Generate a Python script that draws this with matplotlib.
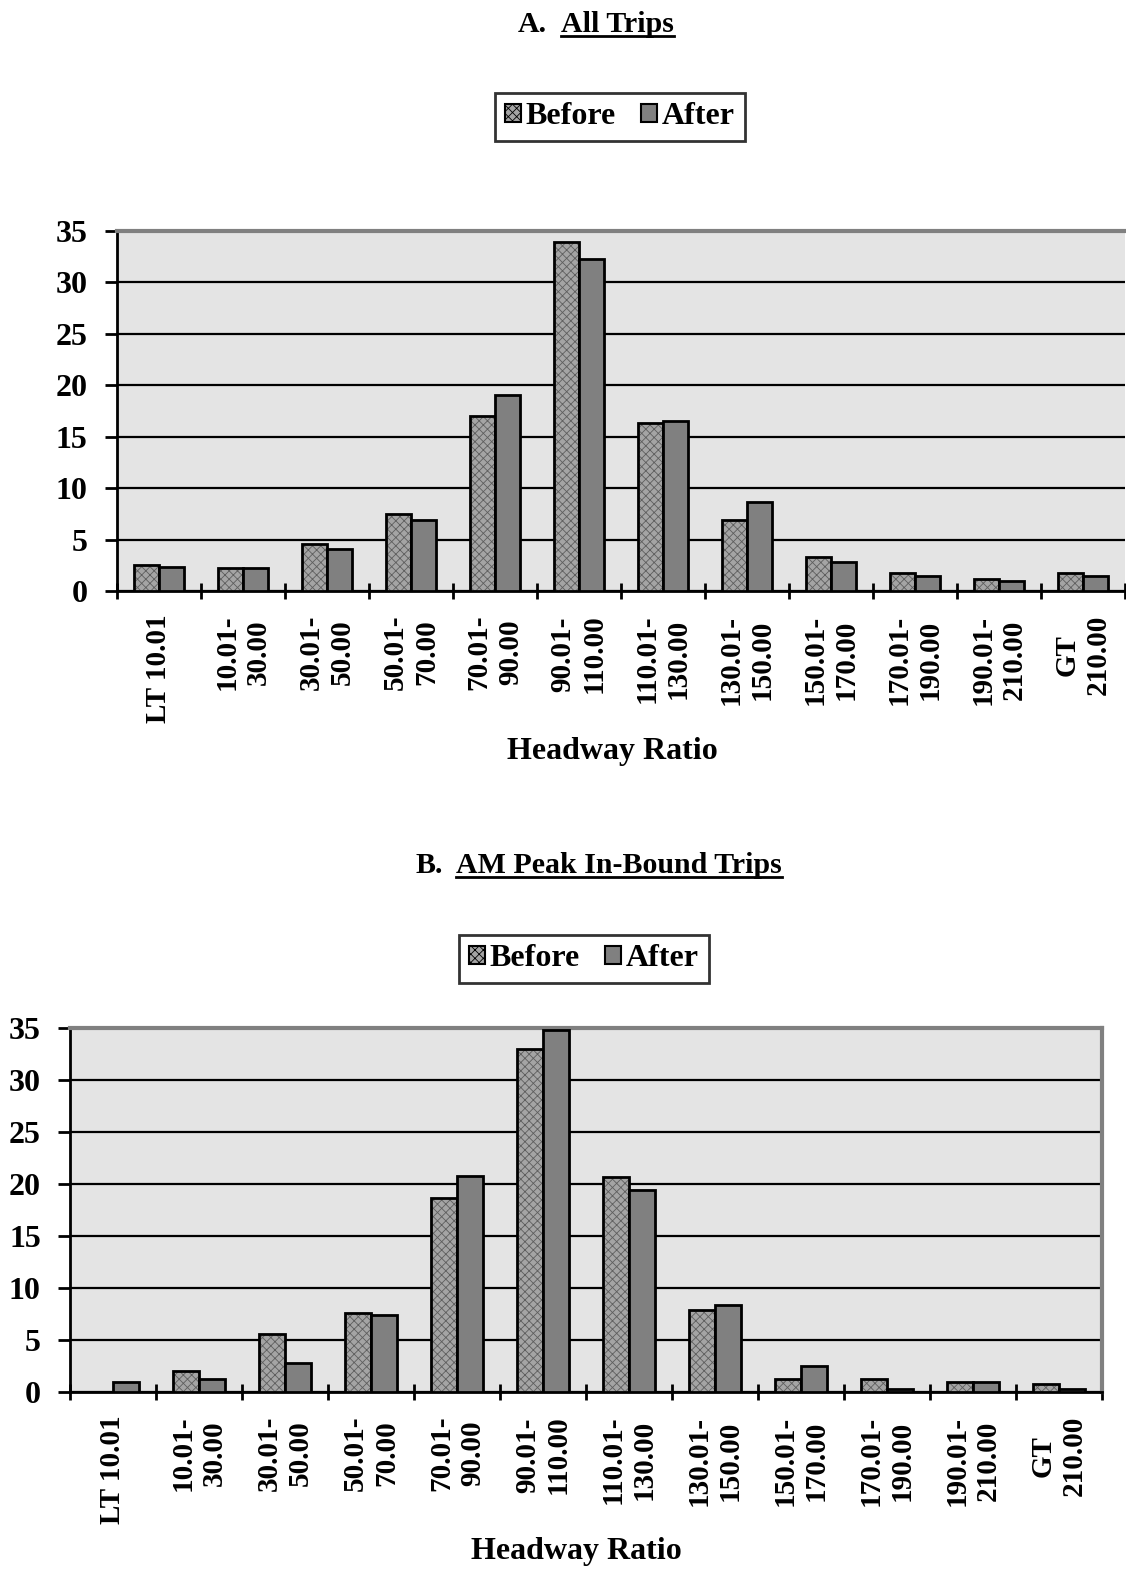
import matplotlib
matplotlib.use('Agg')
import matplotlib.pyplot as plt
from matplotlib.patches import Patch
from matplotlib.lines import Line2D
import numpy as np

plt.rcParams['font.family'] = ['Liberation Serif', 'DejaVu Serif']
plt.rcParams['font.weight'] = 'bold'
plt.rcParams['hatch.linewidth'] = 0.6

categories = ["LT 10.01", "10.01-\n30.00", "30.01-\n50.00", "50.01-\n70.00",
              "70.01-\n90.00", "90.01-\n110.00", "110.01-\n130.00", "130.01-\n150.00",
              "150.01-\n170.00", "170.01-\n190.00", "190.01-\n210.00", "GT\n210.00"]
series_names = ["Before", "After"]
yticks = [0, 5, 10, 15, 20, 25, 30, 35]

all_before = [2.5, 2.2, 4.6, 7.5, 17.0, 33.9, 16.3, 6.9, 3.3, 1.75, 1.2, 1.75]
all_after = [2.3, 2.2, 4.1, 6.95, 19.1, 32.3, 16.5, 8.7, 2.8, 1.5, 1.0, 1.5]
am_before = [0.0, 2.0, 5.6, 7.6, 18.7, 33.0, 20.7, 7.9, 1.25, 1.25, 1.0, 0.75]
am_after = [1.0, 1.25, 2.8, 7.4, 20.75, 34.8, 19.4, 8.4, 2.5, 0.25, 1.0, 0.25]

W, H = 1126, 1571
fig = plt.figure(figsize=(W / 100, H / 100), dpi=100)

BEFORE_FACE = '#a4a4a4'
BEFORE_HATCH = '#5e5e5e'
AFTER_FACE = '#808080'


def fx(px):
    return px / W


def fy(py):
    return 1 - py / H


def make_axes(left, right, top, bottom):
    return fig.add_axes([fx(left), fy(bottom), fx(right - left), (bottom - top) / H])


def draw_chart(ax, before, after):
    x = np.arange(len(categories))
    bw = 0.3
    ax.set_facecolor('#e4e4e4')
    ax.bar(x - bw / 2, before, bw, color=BEFORE_FACE, edgecolor=BEFORE_HATCH,
           hatch='xxxx', linewidth=0, zorder=3)
    ax.bar(x - bw / 2, before, bw, fill=False, edgecolor='black', linewidth=2, zorder=4)
    ax.bar(x + bw / 2, after, bw, color=AFTER_FACE, edgecolor='black', linewidth=2, zorder=4)
    ax.set_xlim(-0.5, len(categories) - 0.5)
    ax.set_ylim(0, 35)
    ax.set_yticks(yticks)
    ax.set_yticklabels([str(v) for v in yticks], fontsize=23, fontweight='bold')
    ax.yaxis.grid(True, color='black', linewidth=1.6, zorder=1)
    ax.set_axisbelow(True)
    ax.set_xticks(np.arange(-0.5, len(categories), 1.0))
    ax.set_xticklabels([])
    ax.set_xticks(x, minor=True)
    ax.set_xticklabels(categories, minor=True, rotation=90, fontsize=21,
                       fontweight='bold', va='top', ha='center',
                       multialignment='center', linespacing=1.2)
    ax.tick_params(axis='x', which='minor', length=0, pad=17)
    ax.tick_params(axis='x', which='major', direction='inout', length=12, width=2)
    ax.tick_params(axis='y', direction='out', length=9, width=2, pad=12)
    for s in ['left', 'bottom']:
        ax.spines[s].set_color('black')
        ax.spines[s].set_linewidth(2)
    ax.spines['top'].set_color('#808080')
    ax.spines['top'].set_linewidth(3)
    ax.spines['right'].set_color('#808080')
    ax.spines['right'].set_linewidth(3)


# Top chart
ax1 = make_axes(116.8, 1124.8, 231, 591)
draw_chart(ax1, all_before, all_after)
ax1.spines['right'].set_visible(False)

# Bottom chart
ax2 = make_axes(70, 1102, 1028, 1392)
draw_chart(ax2, am_before, am_after)

# Axis labels
fig.text(fx(612), fy(752), "Headway Ratio", fontsize=23, fontweight='bold',
         ha='center', va='center')
fig.text(fx(576), fy(1552), "Headway Ratio", fontsize=23, fontweight='bold',
         ha='center', va='center')

# Legends
handles = [Patch(facecolor=BEFORE_FACE, edgecolor='black', hatch='xxxx', linewidth=1.5),
           Patch(facecolor=AFTER_FACE, edgecolor='black', linewidth=1.5)]
for cx, cy in [(620, 117), (584, 959)]:
    leg = fig.legend(handles, series_names, loc='center', bbox_to_anchor=(fx(cx), fy(cy)),
                     ncol=2, frameon=True, fancybox=False, fontsize=23,
                     handlelength=0.5, handleheight=0.5, handletextpad=0.15,
                     columnspacing=0.8, borderpad=0.3, borderaxespad=0)
    leg.get_frame().set_edgecolor('black')
    leg.get_frame().set_linewidth(2)
    for t in leg.get_texts():
        t.set_fontweight('bold')

# Titles with underlined parts
titles = [("A.", "All Trips", 518, 561, 32, 36),
          ("B.", "AM Peak In-Bound Trips", 415, 456, 873, 877)]
under_texts = []
for prefix, main, x0, x1, base, uline in titles:
    fig.text(fx(x0), fy(base), prefix, fontsize=21.5, fontweight='bold', ha='left', va='baseline')
    t = fig.text(fx(x1), fy(base), main, fontsize=21.5, fontweight='bold', ha='left', va='baseline')
    under_texts.append((t, uline))

fig.canvas.draw()
renderer = fig.canvas.get_renderer()
for t, uline in under_texts:
    bb = t.get_window_extent(renderer)
    fig.add_artist(Line2D([bb.x0 / W, bb.x1 / W], [fy(uline), fy(uline)],
                          transform=fig.transFigure, color='black', linewidth=2))

fig.savefig('out.png', dpi=100)
